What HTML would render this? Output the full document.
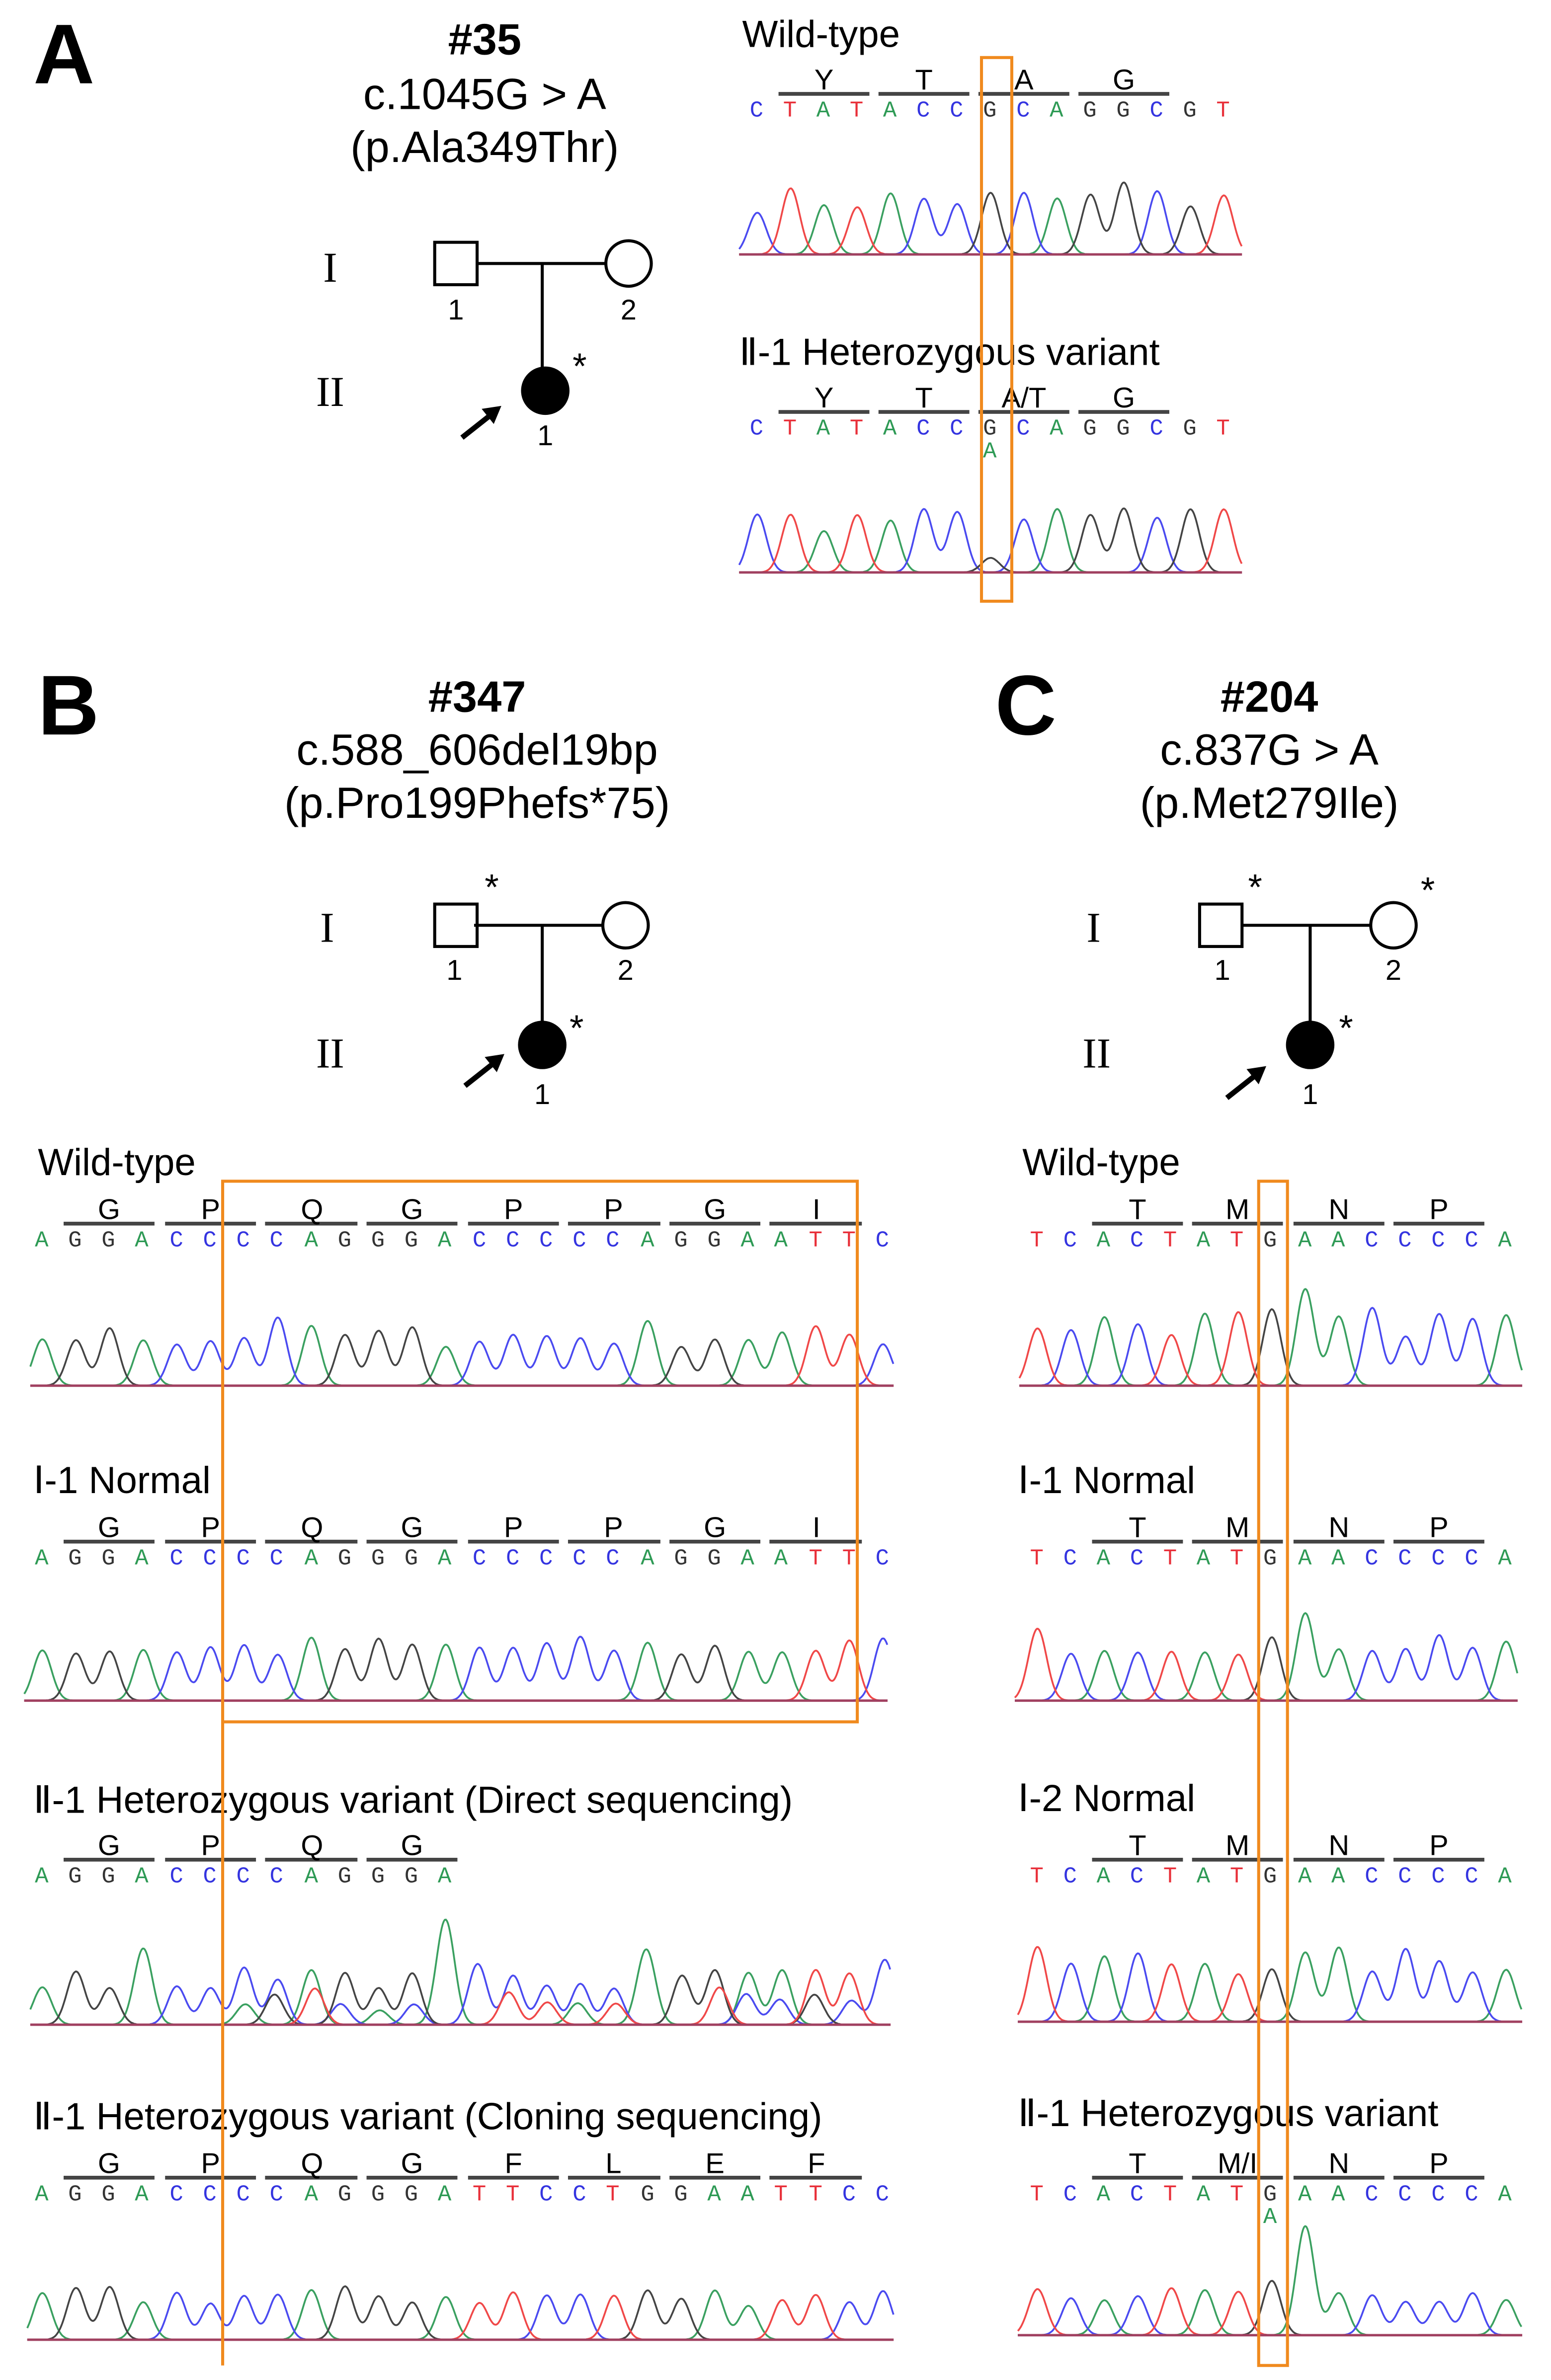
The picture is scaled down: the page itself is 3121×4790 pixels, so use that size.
<!DOCTYPE html>
<html><head><meta charset="utf-8"><style>
html,body{margin:0;padding:0;background:#fff}
svg{display:block}
text{font-family:"Liberation Sans",sans-serif}
.b{font-family:"Liberation Mono",monospace;font-size:15px}
.a{fill:#2e9a55}.c{fill:#3434e0}.g{fill:#333}.t{fill:#e8303a}
.cd{font-size:19px;text-anchor:middle}
.h{font-size:25px}
.r{font-family:"Liberation Serif",serif;font-size:28px;text-anchor:middle}
.n{font-size:19px;text-anchor:middle}
.ti{font-size:29px;text-anchor:middle}
</style></head><body>
<svg id="s" width="3121" height="4790" viewBox="0 0 1024 1571.6" preserveAspectRatio="none" xmlns="http://www.w3.org/2000/svg">
<g id="chroms"></g>
<g id="cl" stroke="#444" stroke-width="2.5"></g>
<text x="22" y="55" font-size="56" font-weight="bold">A</text>
<text x="320" y="36" class="ti" font-weight="bold">#35</text>
<text x="320" y="72" class="ti">c.1045G &gt; A</text>
<text x="320" y="107" class="ti">(p.Ala349Thr)</text>
<g stroke="#000" stroke-width="2" fill="none">
<rect x="287" y="160" width="28" height="28" fill="#fff"/>
<line x1="315" y1="174" x2="400" y2="174"/><circle cx="415" cy="174" r="15" fill="#fff"/>
<line x1="358" y1="174" x2="358" y2="243"/>
<rect x="287" y="597" width="28" height="28" fill="#fff"/>
<line x1="313" y1="611" x2="398" y2="611"/><circle cx="413" cy="611" r="15" fill="#fff"/>
<line x1="358" y1="611" x2="358" y2="675"/>
<rect x="792" y="597" width="28" height="28" fill="#fff"/>
<line x1="820" y1="611" x2="905" y2="611"/><circle cx="920" cy="611" r="15" fill="#fff"/>
<line x1="865" y1="611" x2="865" y2="675"/>
</g>
<circle cx="360" cy="258" r="16"/><circle cx="358" cy="690" r="16"/><circle cx="865" cy="690" r="16"/>
<g stroke="#000" stroke-width="3.5"><line x1="305" y1="289" x2="324" y2="274"/><line x1="307" y1="717" x2="326" y2="702"/><line x1="810" y1="725" x2="829" y2="710"/></g>
<polygon points="331,268 318,270 326,280"/><polygon points="333,696 320,698 328,708"/><polygon points="836,704 823,706 831,716"/>
<text x="301" y="211" class="n">1</text><text x="415" y="211" class="n">2</text><text x="360" y="294" class="n">1</text>
<text x="378" y="250" font-size="24">*</text>
<text x="218" y="186" class="r">I</text><text x="218" y="268" class="r">II</text>
<text x="300" y="647" class="n">1</text><text x="413" y="647" class="n">2</text><text x="358" y="729" class="n">1</text>
<text x="320" y="594" font-size="24">*</text><text x="376" y="687" font-size="24">*</text>
<text x="216" y="622" class="r">I</text><text x="218" y="705" class="r">II</text>
<text x="807" y="647" class="n">1</text><text x="920" y="647" class="n">2</text><text x="865" y="729" class="n">1</text>
<text x="824" y="594" font-size="24">*</text><text x="938" y="596" font-size="24">*</text><text x="884" y="687" font-size="24">*</text>
<text x="722" y="622" class="r">I</text><text x="724" y="705" class="r">II</text>
<text x="25" y="485" font-size="56" font-weight="bold">B</text>
<text x="315" y="470" class="ti" font-weight="bold">#347</text>
<text x="315" y="505" class="ti">c.588_606del19bp</text>
<text x="315" y="540" class="ti">(p.Pro199Phefs*75)</text>
<text x="657" y="485" font-size="56" font-weight="bold">C</text>
<text x="838" y="470" class="ti" font-weight="bold">#204</text>
<text x="838" y="505" class="ti">c.837G &gt; A</text>
<text x="838" y="540" class="ti">(p.Met279Ile)</text>

<text x="490" y="31" class="h">Wild-type</text>
<text x="488" y="241" class="h">Ⅱ-1 Heterozygous variant</text>
<text x="25" y="776" class="h">Wild-type</text>
<text x="22" y="986" class="h">Ⅰ-1 Normal</text>
<text x="22" y="1197" class="h">Ⅱ-1 Heterozygous variant (Direct sequencing)</text>
<text x="22" y="1406" class="h">Ⅱ-1 Heterozygous variant (Cloning sequencing)</text>
<text x="675" y="776" class="h">Wild-type</text>
<text x="672" y="986" class="h">Ⅰ-1 Normal</text>
<text x="672" y="1196" class="h">Ⅰ-2 Normal</text>
<text x="672" y="1404" class="h">Ⅱ-1 Heterozygous variant</text>

<text y="77" class="b"><tspan x="495" class="c">C</tspan><tspan x="517" class="t">T</tspan><tspan x="539" class="a">A</tspan><tspan x="561" class="t">T</tspan><tspan x="583" class="a">A</tspan><tspan x="605" class="c">C</tspan><tspan x="627" class="c">C</tspan><tspan x="649" class="g">G</tspan><tspan x="671" class="c">C</tspan><tspan x="693" class="a">A</tspan><tspan x="715" class="g">G</tspan><tspan x="737" class="g">G</tspan><tspan x="759" class="c">C</tspan><tspan x="781" class="g">G</tspan><tspan x="803" class="t">T</tspan></text>
<text y="287" class="b"><tspan x="495" class="c">C</tspan><tspan x="517" class="t">T</tspan><tspan x="539" class="a">A</tspan><tspan x="561" class="t">T</tspan><tspan x="583" class="a">A</tspan><tspan x="605" class="c">C</tspan><tspan x="627" class="c">C</tspan><tspan x="649" class="g">G</tspan><tspan x="671" class="c">C</tspan><tspan x="693" class="a">A</tspan><tspan x="715" class="g">G</tspan><tspan x="737" class="g">G</tspan><tspan x="759" class="c">C</tspan><tspan x="781" class="g">G</tspan><tspan x="803" class="t">T</tspan></text>
<text x="649" y="302" class="b a">A</text>
<text y="59" class="cd"><tspan x="544">Y</tspan><tspan x="610">T</tspan><tspan x="676">A</tspan><tspan x="742">G</tspan></text>
<text y="269" class="cd"><tspan x="544">Y</tspan><tspan x="610">T</tspan><tspan x="676">A/T</tspan><tspan x="742">G</tspan></text>

<text y="823" class="b"><tspan x="23" class="a">A</tspan><tspan x="45" class="g">G</tspan><tspan x="67" class="g">G</tspan><tspan x="89" class="a">A</tspan><tspan x="112" class="c">C</tspan><tspan x="134" class="c">C</tspan><tspan x="156" class="c">C</tspan><tspan x="178" class="c">C</tspan><tspan x="201" class="a">A</tspan><tspan x="223" class="g">G</tspan><tspan x="245" class="g">G</tspan><tspan x="267" class="g">G</tspan><tspan x="289" class="a">A</tspan><tspan x="312" class="c">C</tspan><tspan x="334" class="c">C</tspan><tspan x="356" class="c">C</tspan><tspan x="378" class="c">C</tspan><tspan x="400" class="c">C</tspan><tspan x="423" class="a">A</tspan><tspan x="445" class="g">G</tspan><tspan x="467" class="g">G</tspan><tspan x="489" class="a">A</tspan><tspan x="511" class="a">A</tspan><tspan x="534" class="t">T</tspan><tspan x="556" class="t">T</tspan><tspan x="578" class="c">C</tspan></text>
<text y="1033" class="b"><tspan x="23" class="a">A</tspan><tspan x="45" class="g">G</tspan><tspan x="67" class="g">G</tspan><tspan x="89" class="a">A</tspan><tspan x="112" class="c">C</tspan><tspan x="134" class="c">C</tspan><tspan x="156" class="c">C</tspan><tspan x="178" class="c">C</tspan><tspan x="201" class="a">A</tspan><tspan x="223" class="g">G</tspan><tspan x="245" class="g">G</tspan><tspan x="267" class="g">G</tspan><tspan x="289" class="a">A</tspan><tspan x="312" class="c">C</tspan><tspan x="334" class="c">C</tspan><tspan x="356" class="c">C</tspan><tspan x="378" class="c">C</tspan><tspan x="400" class="c">C</tspan><tspan x="423" class="a">A</tspan><tspan x="445" class="g">G</tspan><tspan x="467" class="g">G</tspan><tspan x="489" class="a">A</tspan><tspan x="511" class="a">A</tspan><tspan x="534" class="t">T</tspan><tspan x="556" class="t">T</tspan><tspan x="578" class="c">C</tspan></text>
<text y="1243" class="b"><tspan x="23" class="a">A</tspan><tspan x="45" class="g">G</tspan><tspan x="67" class="g">G</tspan><tspan x="89" class="a">A</tspan><tspan x="112" class="c">C</tspan><tspan x="134" class="c">C</tspan><tspan x="156" class="c">C</tspan><tspan x="178" class="c">C</tspan><tspan x="201" class="a">A</tspan><tspan x="223" class="g">G</tspan><tspan x="245" class="g">G</tspan><tspan x="267" class="g">G</tspan><tspan x="289" class="a">A</tspan></text>
<text y="1453" class="b"><tspan x="23" class="a">A</tspan><tspan x="45" class="g">G</tspan><tspan x="67" class="g">G</tspan><tspan x="89" class="a">A</tspan><tspan x="112" class="c">C</tspan><tspan x="134" class="c">C</tspan><tspan x="156" class="c">C</tspan><tspan x="178" class="c">C</tspan><tspan x="201" class="a">A</tspan><tspan x="223" class="g">G</tspan><tspan x="245" class="g">G</tspan><tspan x="267" class="g">G</tspan><tspan x="289" class="a">A</tspan><tspan x="312" class="t">T</tspan><tspan x="334" class="t">T</tspan><tspan x="356" class="c">C</tspan><tspan x="378" class="c">C</tspan><tspan x="400" class="t">T</tspan><tspan x="423" class="g">G</tspan><tspan x="445" class="g">G</tspan><tspan x="467" class="a">A</tspan><tspan x="489" class="a">A</tspan><tspan x="511" class="t">T</tspan><tspan x="534" class="t">T</tspan><tspan x="556" class="c">C</tspan><tspan x="578" class="c">C</tspan></text>
<text y="805" class="cd"><tspan x="72">G</tspan><tspan x="139">P</tspan><tspan x="206">Q</tspan><tspan x="272">G</tspan><tspan x="339">P</tspan><tspan x="405">P</tspan><tspan x="472">G</tspan><tspan x="539">I</tspan></text>
<text y="1015" class="cd"><tspan x="72">G</tspan><tspan x="139">P</tspan><tspan x="206">Q</tspan><tspan x="272">G</tspan><tspan x="339">P</tspan><tspan x="405">P</tspan><tspan x="472">G</tspan><tspan x="539">I</tspan></text>
<text y="1225" class="cd"><tspan x="72">G</tspan><tspan x="139">P</tspan><tspan x="206">Q</tspan><tspan x="272">G</tspan></text>
<text y="1435" class="cd"><tspan x="72">G</tspan><tspan x="139">P</tspan><tspan x="206">Q</tspan><tspan x="272">G</tspan><tspan x="339">F</tspan><tspan x="405">L</tspan><tspan x="472">E</tspan><tspan x="539">F</tspan></text>

<text y="823" class="b"><tspan x="680" class="t">T</tspan><tspan x="702" class="c">C</tspan><tspan x="724" class="a">A</tspan><tspan x="746" class="c">C</tspan><tspan x="768" class="t">T</tspan><tspan x="790" class="a">A</tspan><tspan x="812" class="t">T</tspan><tspan x="834" class="g">G</tspan><tspan x="857" class="a">A</tspan><tspan x="879" class="a">A</tspan><tspan x="901" class="c">C</tspan><tspan x="923" class="c">C</tspan><tspan x="945" class="c">C</tspan><tspan x="967" class="c">C</tspan><tspan x="989" class="a">A</tspan></text>
<text y="1033" class="b"><tspan x="680" class="t">T</tspan><tspan x="702" class="c">C</tspan><tspan x="724" class="a">A</tspan><tspan x="746" class="c">C</tspan><tspan x="768" class="t">T</tspan><tspan x="790" class="a">A</tspan><tspan x="812" class="t">T</tspan><tspan x="834" class="g">G</tspan><tspan x="857" class="a">A</tspan><tspan x="879" class="a">A</tspan><tspan x="901" class="c">C</tspan><tspan x="923" class="c">C</tspan><tspan x="945" class="c">C</tspan><tspan x="967" class="c">C</tspan><tspan x="989" class="a">A</tspan></text>
<text y="1243" class="b"><tspan x="680" class="t">T</tspan><tspan x="702" class="c">C</tspan><tspan x="724" class="a">A</tspan><tspan x="746" class="c">C</tspan><tspan x="768" class="t">T</tspan><tspan x="790" class="a">A</tspan><tspan x="812" class="t">T</tspan><tspan x="834" class="g">G</tspan><tspan x="857" class="a">A</tspan><tspan x="879" class="a">A</tspan><tspan x="901" class="c">C</tspan><tspan x="923" class="c">C</tspan><tspan x="945" class="c">C</tspan><tspan x="967" class="c">C</tspan><tspan x="989" class="a">A</tspan></text>
<text y="1453" class="b"><tspan x="680" class="t">T</tspan><tspan x="702" class="c">C</tspan><tspan x="724" class="a">A</tspan><tspan x="746" class="c">C</tspan><tspan x="768" class="t">T</tspan><tspan x="790" class="a">A</tspan><tspan x="812" class="t">T</tspan><tspan x="834" class="g">G</tspan><tspan x="857" class="a">A</tspan><tspan x="879" class="a">A</tspan><tspan x="901" class="c">C</tspan><tspan x="923" class="c">C</tspan><tspan x="945" class="c">C</tspan><tspan x="967" class="c">C</tspan><tspan x="989" class="a">A</tspan></text>
<text x="834" y="1468" class="b a">A</text>
<text y="805" class="cd"><tspan x="751">T</tspan><tspan x="817">M</tspan><tspan x="884">N</tspan><tspan x="950">P</tspan></text>
<text y="1015" class="cd"><tspan x="751">T</tspan><tspan x="817">M</tspan><tspan x="884">N</tspan><tspan x="950">P</tspan></text>
<text y="1225" class="cd"><tspan x="751">T</tspan><tspan x="817">M</tspan><tspan x="884">N</tspan><tspan x="950">P</tspan></text>
<text y="1435" class="cd"><tspan x="751">T</tspan><tspan x="817">M/I</tspan><tspan x="884">N</tspan><tspan x="950">P</tspan></text>

<g stroke="#f08a1e" stroke-width="2" fill="none">
<rect x="648" y="38" width="20" height="359"/>
<rect x="147" y="780" width="419" height="357"/>
<line x1="147" y1="1137" x2="147" y2="1562"/>
<rect x="831" y="780" width="19" height="782"/>
</g>
</svg>
<script>
(function(){
var NS="http://www.w3.org/2000/svg";
var col={A:"#3aa060",C:"#4a4af0",G:"#444",T:"#f04848"};
var seed=7;function rnd(){seed=(seed*16807)%2147483647;return seed/2147483647;}
var cg=document.getElementById("chroms"),cl=document.getElementById("cl");
function line(x1,x2,y){var l=document.createElementNS(NS,"line");l.setAttribute("x1",x1);l.setAttribute("x2",x2);l.setAttribute("y1",y);l.setAttribute("y2",y);cl.appendChild(l);}
function cod(list,y){list.forEach(function(p){line(p[0]-8,p[1]+8,y);});}
function chrom(seq,x0,step,base,h,x1,het,hi){
 var xs=[];for(var i=0;i<seq.length;i++)xs.push(x0+i*step);
 var peaks=[];
 for(var i=0;i<seq.length;i++){var hh=h*(0.55+0.35*rnd());if(hi&&hi[i])hh=h*hi[i];peaks.push([seq[i],xs[i],hh]);
  if(het&&i>=het[0]&&i<=het[1]){var o="ACGT"[Math.floor(rnd()*4)];peaks.push([o,xs[i]+(rnd()-0.5)*6,hh*(0.3+0.4*rnd())]);}}
 ["A","C","G","T"].forEach(function(b){
  var d="";for(var x=x1[0];x<=x1[1];x+=0.7){var y=0;peaks.forEach(function(p){if(p[0]==b){var dx=(x-p[1])/(step*0.27);y+=p[2]*Math.exp(-dx*dx/2);}});d+=(d?"L":"M")+x.toFixed(1)+" "+(base-y).toFixed(1);}
  var pa=document.createElementNS(NS,"path");pa.setAttribute("d",d);pa.setAttribute("fill","none");pa.setAttribute("stroke",col[b]);pa.setAttribute("stroke-width","1.2");cg.appendChild(pa);});
 var bl=document.createElementNS(NS,"line");bl.setAttribute("x1",x1[0]);bl.setAttribute("x2",x1[1]);bl.setAttribute("y1",base);bl.setAttribute("y2",base);bl.setAttribute("stroke","#a04060");bl.setAttribute("stroke-width","1.6");cg.appendChild(bl);
}
var aS="CTATACCGCAGGCGT",bS="AGGACCCCAGGGACCCCCAGGAATTC",bC="AGGACCCCAGGGATTCCTGGAATTCC",cS="TCACTATGAACCCCA";
chrom(aS,500,22,168,50,[488,820],null,{11:0.95,14:0.78});
chrom(aS,500,22,378,48,[488,820],null,{7:0.2,11:0.88});
chrom(bS,28,22.2,915,45,[20,590],null,{7:1.0,18:0.95,24:0.75});
chrom(bS,28,22.2,1123,48,[16,586],null);
chrom(bS,28,22.2,1337,42,[20,588],[6,25],{3:1.2,12:1.0});
chrom(bC,28,22.2,1545,40,[18,590],null);
chrom(cS,685,22.1,915,58,[673,1005],null,{8:1.1});
chrom(cS,685,22.1,1123,55,[670,1002],null,{8:1.05});
chrom(cS,685,22.1,1335,55,[672,1005],null);
chrom(cS,685,22.1,1542,40,[672,1005],null,{8:1.8});
var ac=[[522,566],[588,632],[654,698],[720,764]];cod(ac,62);cod(ac,272);
var bc=[[50,94],[117,161],[183,228],[250,294],[317,361],[383,428],[450,494],[516,561]];
cod(bc,808);cod(bc,1018);cod(bc.slice(0,4),1228);cod(bc,1438);
var cc=[[729,773],[795,839],[862,906],[928,972]];cod(cc,808);cod(cc,1018);cod(cc,1228);cod(cc,1438);
})();
</script>
</body></html>
